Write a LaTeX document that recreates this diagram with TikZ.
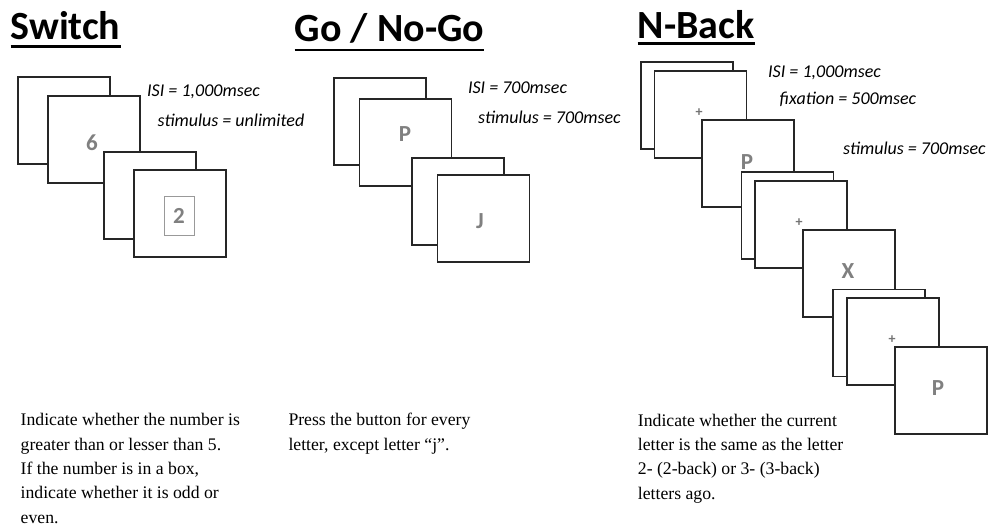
\documentclass[tikz,border=0pt]{standalone}
\usepackage{fontspec}
\setmainfont{Liberation Serif}
\newfontfamily\calfont{Carlito}
\begin{document}
\begin{tikzpicture}[x=1pt,y=-1pt,
  card/.style={draw=black!85,line width=1.2pt,fill=white,minimum width=92pt,minimum height=87pt,inner sep=0pt},
  glyph/.style={text=black!50,font=\calfont\bfseries\fontsize{23}{23}\selectfont,inner sep=0pt},
  cross/.style={text=black!55,font=\calfont\bfseries\fontsize{14}{14}\selectfont,inner sep=0pt},
  title/.style={font=\calfont\bfseries\fontsize{40}{40}\selectfont,anchor=base west,inner sep=0pt},
  timing/.style={font=\calfont\itshape\fontsize{18}{18}\selectfont,anchor=base west,inner sep=0pt},
  rule/.style={line width=2.7pt},
  caption/.style={font=\fontsize{17.7}{24.3}\selectfont,align=left,anchor=north west,inner sep=0pt}]
\path[use as bounding box,fill=white] (0,0) rectangle (992,524);

% ---- Switch ----
\node[title] (tsw) at (10.5,40) {Switch};
\draw[rule] ([yshift=-6.7pt]tsw.base west) -- ([yshift=-6.7pt]tsw.base east);
\node[card] (sw1) at (64,120.5) {};
\node[card] (sw2) at (94,139.5) {};
\node[glyph] (six) at (92,143) {6};
\node[card] (sw3) at (150,195.5) {};
\node[card] (sw4) at (180,213.5) {};
\node[draw=black!40,line width=1pt,minimum width=30pt,minimum height=39pt,inner sep=0pt] (box) at (179,215.5) {};
\node[glyph] (two) at (box.center) {2};
\node[timing] (swisi) at (147,96.5) {ISI = 1,000msec};
\node[timing] (swstim) at (157.5,126.7) {stimulus = unlimited};
\node[caption] (swtxt) at (20.5,408.7) {\strut Indicate whether the number is\\greater than or lesser than 5.\\If the number is in a box,\\indicate whether it is odd or\\even.};

% ---- Go / No-Go ----
\node[title] (tgo) at (294.7,41.7) {Go / No-Go};
\draw[rule] ([yshift=-8.3pt]tgo.base west) -- ([yshift=-8.3pt]tgo.base east);
\node[card] (go1) at (380,121.5) {};
\node[card] (go2) at (405.5,142.5) {};
\node[glyph] (pgo) at (405,134) {P};
\node[card] (go3) at (458,201.5) {};
\node[card] (go4) at (483.5,218.5) {};
\node[glyph] (jgo) at (480,221) {J};
\node[timing] (goisi) at (467.8,93.3) {ISI = 700msec};
\node[timing] (gostim) at (478,124) {stimulus = 700msec};
\node[caption] (gotxt) at (288.3,408.7) {\strut Press the button for every\\letter, except letter “j”.};

% ---- N-Back ----
\node[title] (tnb) at (637.7,38.3) {N-Back};
\draw[rule] ([yshift=-5pt]tnb.base west) -- ([yshift=-5pt]tnb.base east);
\node[card] (nb1) at (687,105.5) {};
\node[card] (nb2) at (700.5,114.5) {};
\node[cross] (f1) at (699,113) {+};
\node[card] (nb3) at (748,163.5) {};
\node[glyph] (l1) at (747,162) {P};
\node[card] (nb4) at (787.5,215.5) {};
\node[card] (nb5) at (801,224.5) {};
\node[cross] (f2) at (799,223) {+};
\node[card] (nb6) at (849,273.5) {};
\node[glyph] (l2) at (848,271) {X};
\node[card] (nb7) at (879,333) {};
\node[card] (nb8) at (893,341.5) {};
\node[cross] (f3) at (892,340) {+};
\node[card] (nb9) at (941,390.5) {};
\node[glyph] (l3) at (938,388) {P};
\node[timing] (nbisi) at (768,77.3) {ISI = 1,000msec};
\node[timing] (nbfix) at (779.5,105) {fixation = 500msec};
\node[timing] (nbstim) at (843,154) {stimulus = 700msec};
\node[caption] (nbtxt) at (637.7,409) {\strut Indicate whether the current\\letter is the same as the letter\\2- (2-back) or 3- (3-back)\\letters ago.};
\end{tikzpicture}
\end{document}
